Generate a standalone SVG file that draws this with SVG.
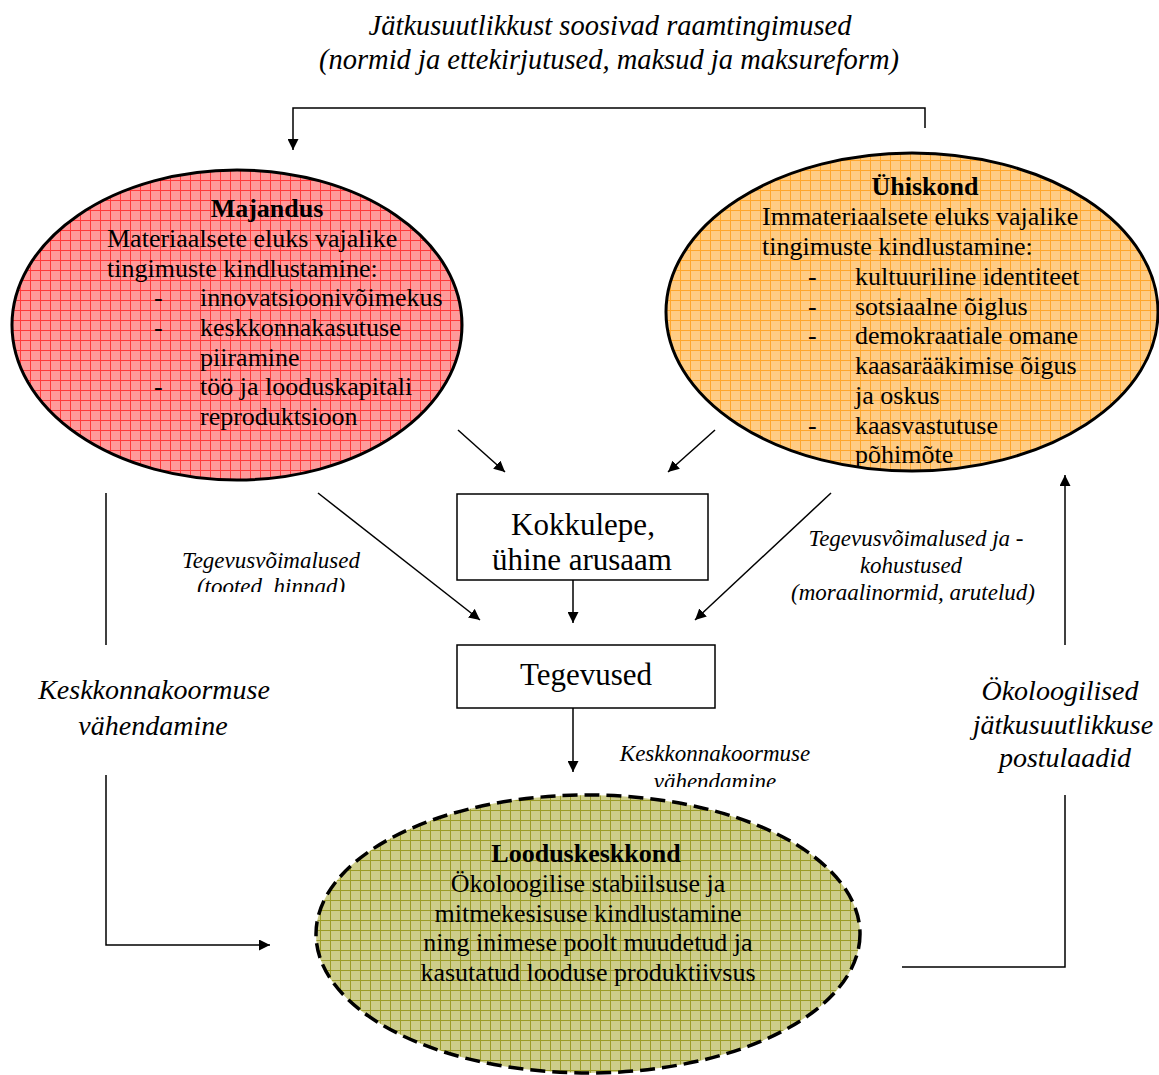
<svg xmlns="http://www.w3.org/2000/svg" width="1159" height="1075" viewBox="0 0 1159 1075">
<style>
text{font-family:"Liberation Serif","Times New Roman",serif;fill:#000}
.t{font-size:26px}
.b{font-weight:bold;text-anchor:middle}
.c{text-anchor:middle}
.bx{font-size:31px;text-anchor:middle}
.box{fill:#fff;stroke:#000;stroke-width:1.5}
.ln{fill:none;stroke:#000;stroke-width:1.5}
.it{font-style:italic;text-anchor:middle}
.s{font-size:23px}
.L{font-size:28px}
</style>
<defs>
<pattern id="pr" width="10" height="10" patternUnits="userSpaceOnUse">
<rect width="10" height="10" fill="#ff9a9a"/><path d="M0 0.5H10M0.5 0V10" stroke="#ff3a3a" stroke-width="1"/></pattern>
<pattern id="po" width="10" height="10" patternUnits="userSpaceOnUse">
<rect width="10" height="10" fill="#ffcc84"/><path d="M0 0.5H10M0.5 0V10" stroke="#ffa62c" stroke-width="1"/></pattern>
<pattern id="pg" width="10" height="10" patternUnits="userSpaceOnUse">
<rect width="10" height="10" fill="#cdcd8a"/><path d="M0 0.5H10M0.5 0V10" stroke="#9c9c28" stroke-width="1"/></pattern>
<marker id="ar" viewBox="0 0 10 10" refX="10" refY="5" markerWidth="11" markerHeight="11" markerUnits="userSpaceOnUse" orient="auto">
<path d="M0 0L10 5L0 10Z" fill="#000"/></marker>
<clipPath id="c1"><rect x="100" y="540" width="340" height="52"/></clipPath>
<clipPath id="c2"><rect x="580" y="730" width="280" height="57"/></clipPath>
</defs>

<g id="title">
<text class="it" x="610" y="35" font-size="28.5">Jätkusuutlikkust soosivad raamtingimused</text>
<text class="it" x="609" y="69" font-size="28.5">(normid ja ettekirjutused, maksud ja maksureform)</text>
</g>

<g id="majandus">
<ellipse cx="237" cy="325" rx="225" ry="155" fill="url(#pr)" stroke="#000" stroke-width="3"/>
<text class="t b" x="267" y="217">Majandus</text>
<text class="t" x="107" y="247">Materiaalsete eluks vajalike</text>
<text class="t" x="107" y="277">tingimuste kindlustamine:</text>
<text class="t" x="154" y="306">-</text><text class="t" x="200" y="306">innovatsioonivõimekus</text>
<text class="t" x="154" y="336">-</text><text class="t" x="200" y="336">keskkonnakasutuse</text>
<text class="t" x="200" y="366">piiramine</text>
<text class="t" x="154" y="395">-</text><text class="t" x="200" y="395">töö ja looduskapitali</text>
<text class="t" x="200" y="425">reproduktsioon</text>
</g>

<g id="uhiskond">
<ellipse cx="912" cy="312" rx="246" ry="159" fill="url(#po)" stroke="#000" stroke-width="3"/>
<text class="t b" x="925" y="195">Ühiskond</text>
<text class="t" x="762" y="225">Immateriaalsete eluks vajalike</text>
<text class="t" x="762" y="255">tingimuste kindlustamine:</text>
<text class="t" x="808" y="285">-</text><text class="t" x="855" y="285">kultuuriline identiteet</text>
<text class="t" x="808" y="315">-</text><text class="t" x="855" y="315">sotsiaalne õiglus</text>
<text class="t" x="808" y="344">-</text><text class="t" x="855" y="344">demokraatiale omane</text>
<text class="t" x="855" y="374">kaasarääkimise õigus</text>
<text class="t" x="855" y="404">ja oskus</text>
<text class="t" x="808" y="434">-</text><text class="t" x="855" y="434">kaasvastutuse</text>
<text class="t" x="855" y="463">põhimõte</text>
</g>

<g id="looduskeskkond">
<ellipse cx="588" cy="934" rx="272" ry="139" fill="url(#pg)" stroke="#000" stroke-width="3.5" stroke-dasharray="15,7"/>
<text class="t b" x="586" y="862">Looduskeskkond</text>
<text class="t c" x="588" y="892">Ökoloogilise stabiilsuse ja</text>
<text class="t c" x="588" y="922">mitmekesisuse kindlustamine</text>
<text class="t c" x="588" y="951">ning inimese poolt muudetud ja</text>
<text class="t c" x="588" y="981">kasutatud looduse produktiivsus</text>
</g>

<g id="kokkulepe">
<rect class="box" x="457" y="494" width="251" height="86"/>
<text class="bx" x="583" y="535">Kokkulepe,</text>
<text class="bx" x="582" y="570">ühine arusaam</text>
</g>

<g id="tegevused">
<rect class="box" x="457" y="645" width="258" height="63"/>
<text class="bx" x="586" y="685">Tegevused</text>
</g>

<g id="connectors">
<path class="ln" d="M925 128V108H293V150" marker-end="url(#ar)"/>
<path class="ln" d="M458 430L505 472" marker-end="url(#ar)"/>
<path class="ln" d="M715 430L668 472" marker-end="url(#ar)"/>
<path class="ln" d="M318 493L480 620" marker-end="url(#ar)"/>
<path class="ln" d="M831 493L695 620" marker-end="url(#ar)"/>
<path class="ln" d="M573 580V623" marker-end="url(#ar)"/>
<path class="ln" d="M573 708V772" marker-end="url(#ar)"/>
<path class="ln" d="M106 493V645"/>
<path class="ln" d="M106 775V945H270" marker-end="url(#ar)"/>
<path class="ln" d="M902 967H1065V795"/>
<path class="ln" d="M1065 645V475" marker-end="url(#ar)"/>
</g>

<g id="labels">
<g clip-path="url(#c1)">
<text class="it s" x="271" y="568">Tegevusvõimalused</text>
<text class="it s" x="271" y="594">(tooted, hinnad)</text>
</g>
<text class="it s" x="916" y="546">Tegevusvõimalused ja -</text>
<text class="it s" x="911" y="573">kohustused</text>
<text class="it s" x="913" y="600">(moraalinormid, arutelud)</text>
<g clip-path="url(#c2)">
<text class="it s" x="715" y="761">Keskkonnakoormuse</text>
<text class="it s" x="715" y="789">vähendamine</text>
</g>
<text class="it L" x="154" y="699">Keskkonnakoormuse</text>
<text class="it L" x="153" y="735">vähendamine</text>
<text class="it L" x="1060" y="700">Ökoloogilised</text>
<text class="it L" x="1063" y="734">jätkusuutlikkuse</text>
<text class="it L" x="1065" y="767">postulaadid</text>
</g>
</svg>
